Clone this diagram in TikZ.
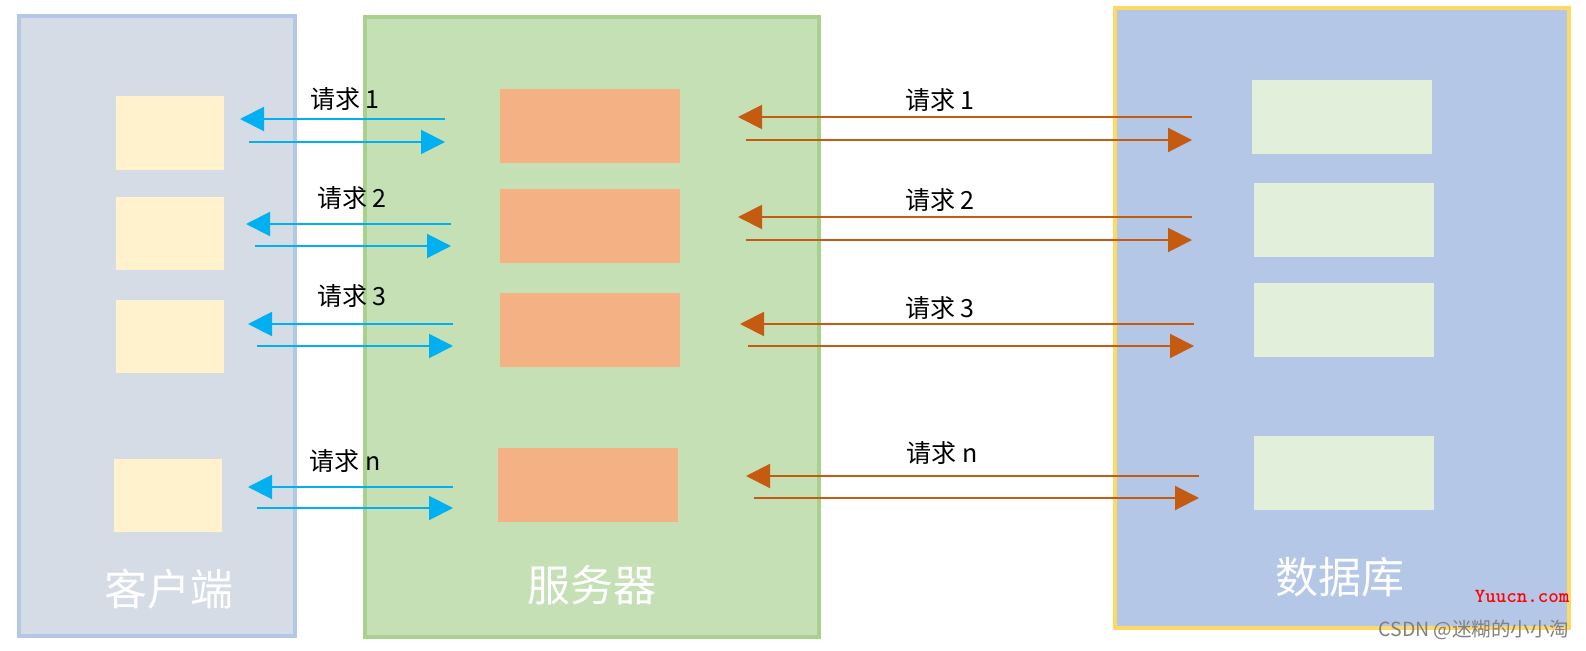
\documentclass[tikz,border=0pt]{standalone}
\usepackage{fontspec}
\setmainfont{Liberation Sans}
\newfontfamily\cjk{Noto Sans CJK SC}
\usetikzlibrary{positioning,arrows.meta}
\definecolor{clientbg}{HTML}{D6DCE5}
\definecolor{clientline}{HTML}{B4C7E7}
\definecolor{clientbox}{HTML}{FFF2CC}
\definecolor{serverbg}{HTML}{C5E0B4}
\definecolor{serverline}{HTML}{A9D18E}
\definecolor{serverbox}{HTML}{F4B183}
\definecolor{dbbg}{HTML}{B4C7E7}
\definecolor{dbline}{HTML}{FFD966}
\definecolor{dbbox}{HTML}{E2EFDA}
\definecolor{bluearrow}{HTML}{00B0F0}
\definecolor{orangearrow}{HTML}{C55A11}

\begin{document}
\begin{tikzpicture}[x=1pt,y=-1pt,>={Triangle[length=24pt,width=24pt]},
frame/.style={line width=4pt,minimum width=454pt,minimum height=620pt,inner sep=0pt},
cbox/.style={fill=clientbox,minimum width=108pt,minimum height=73pt,inner sep=0pt},
sbox/.style={fill=serverbox,minimum width=180pt,minimum height=74pt,inner sep=0pt},
dbox/.style={fill=dbbox,minimum width=180pt,minimum height=74pt,inner sep=0pt},
barrow/.style={->,draw=bluearrow,line width=2pt},
oarrow/.style={->,draw=orangearrow,line width=2pt},
req/.style={font=\cjk\fontsize{25}{28}\selectfont},
title/.style={font=\cjk\fontsize{43}{48}\selectfont,text=white}]
\useasboundingbox (0,0) rectangle (1586,650);

% three tiers
\node[frame,draw=clientline,fill=clientbg,minimum width=276pt] (client) at (157,326) {};
\node[frame,draw=serverline,fill=serverbg] (server) at (592,327) {};
\node[frame,draw=dbline,fill=dbbg] (db) at (1342,318) {};

\node[cbox] (c1) at (170,133) {};
\node[cbox] (c2) at (170,233) {};
\node[cbox] (c3) at (170,336) {};
\node[cbox] (cn) at (168,495) {};

\node[sbox] (s1) at (590,126) {};
\node[sbox] (s2) at (590,226) {};
\node[sbox] (s3) at (590,330) {};
\node[sbox] (sn) at (588,485) {};

\node[dbox] (d1) at (1342,117) {};
\node[dbox] (d2) at (1344,220) {};
\node[dbox] (d3) at (1344,320) {};
\node[dbox] (dn) at (1344,473) {};

\node[title] (tc) at (169,589) {客户端};
\node[title] (ts) at (592,585) {服务器};
\node[title] (td) at (1340,577) {数据库};

% client <-> server
\coordinate (bl1) at (240,119); \coordinate (br1) at (445,119);
\coordinate (bl1b) at (249,142); \coordinate (br1b) at (445,142);
\coordinate (bl2) at (246,224); \coordinate (br2) at (451,224);
\coordinate (bl2b) at (255,246); \coordinate (br2b) at (451,246);
\coordinate (bl3) at (248,324); \coordinate (br3) at (453,324);
\coordinate (bl3b) at (257,346); \coordinate (br3b) at (453,346);
\coordinate (bln) at (248,487); \coordinate (brn) at (453,487);
\coordinate (blnb) at (257,508); \coordinate (brnb) at (453,508);
\draw[barrow] (br1) -- (bl1); \draw[barrow] (bl1b) -- (br1b);
\draw[barrow] (br2) -- (bl2); \draw[barrow] (bl2b) -- (br2b);
\draw[barrow] (br3) -- (bl3); \draw[barrow] (bl3b) -- (br3b);
\draw[barrow] (brn) -- (bln); \draw[barrow] (blnb) -- (brnb);
\node[req] (q1) at (345,99) {请求 1};
\node[req] (q2) at (352,198) {请求 2};
\node[req] (q3) at (352,296) {请求 3};
\node[req] (qn) at (345,461) {请求 n};

% server <-> database
\coordinate (ol1) at (738,117); \coordinate (or1) at (1192,117);
\coordinate (ol1b) at (746,140); \coordinate (or1b) at (1192,140);
\coordinate (ol2) at (738,217); \coordinate (or2) at (1192,217);
\coordinate (ol2b) at (746,240); \coordinate (or2b) at (1192,240);
\coordinate (ol3) at (740,324); \coordinate (or3) at (1194,324);
\coordinate (ol3b) at (748,346); \coordinate (or3b) at (1194,346);
\coordinate (oln) at (746,476); \coordinate (orn) at (1199,476);
\coordinate (olnb) at (754,498); \coordinate (ornb) at (1199,498);
\draw[oarrow] (or1) -- (ol1); \draw[oarrow] (ol1b) -- (or1b);
\draw[oarrow] (or2) -- (ol2); \draw[oarrow] (ol2b) -- (or2b);
\draw[oarrow] (or3) -- (ol3); \draw[oarrow] (ol3b) -- (or3b);
\draw[oarrow] (orn) -- (oln); \draw[oarrow] (olnb) -- (ornb);
\node[req] (p1) at (940,100) {请求 1};
\node[req] (p2) at (940,200) {请求 2};
\node[req] (p3) at (940,308) {请求 3};
\node[req] (pn) at (942,453) {请求 n};

% watermark
\node[font=\fontsize{20}{22}\selectfont\ttfamily\bfseries,text=red] (wm1) at (1522,596) {Yuucn.com};
\node[font=\cjk\fontsize{19.5}{22}\selectfont,text=gray] (wm2) at (1474,630) {CSDN @迷糊的小小淘};
\end{tikzpicture}
\end{document}
